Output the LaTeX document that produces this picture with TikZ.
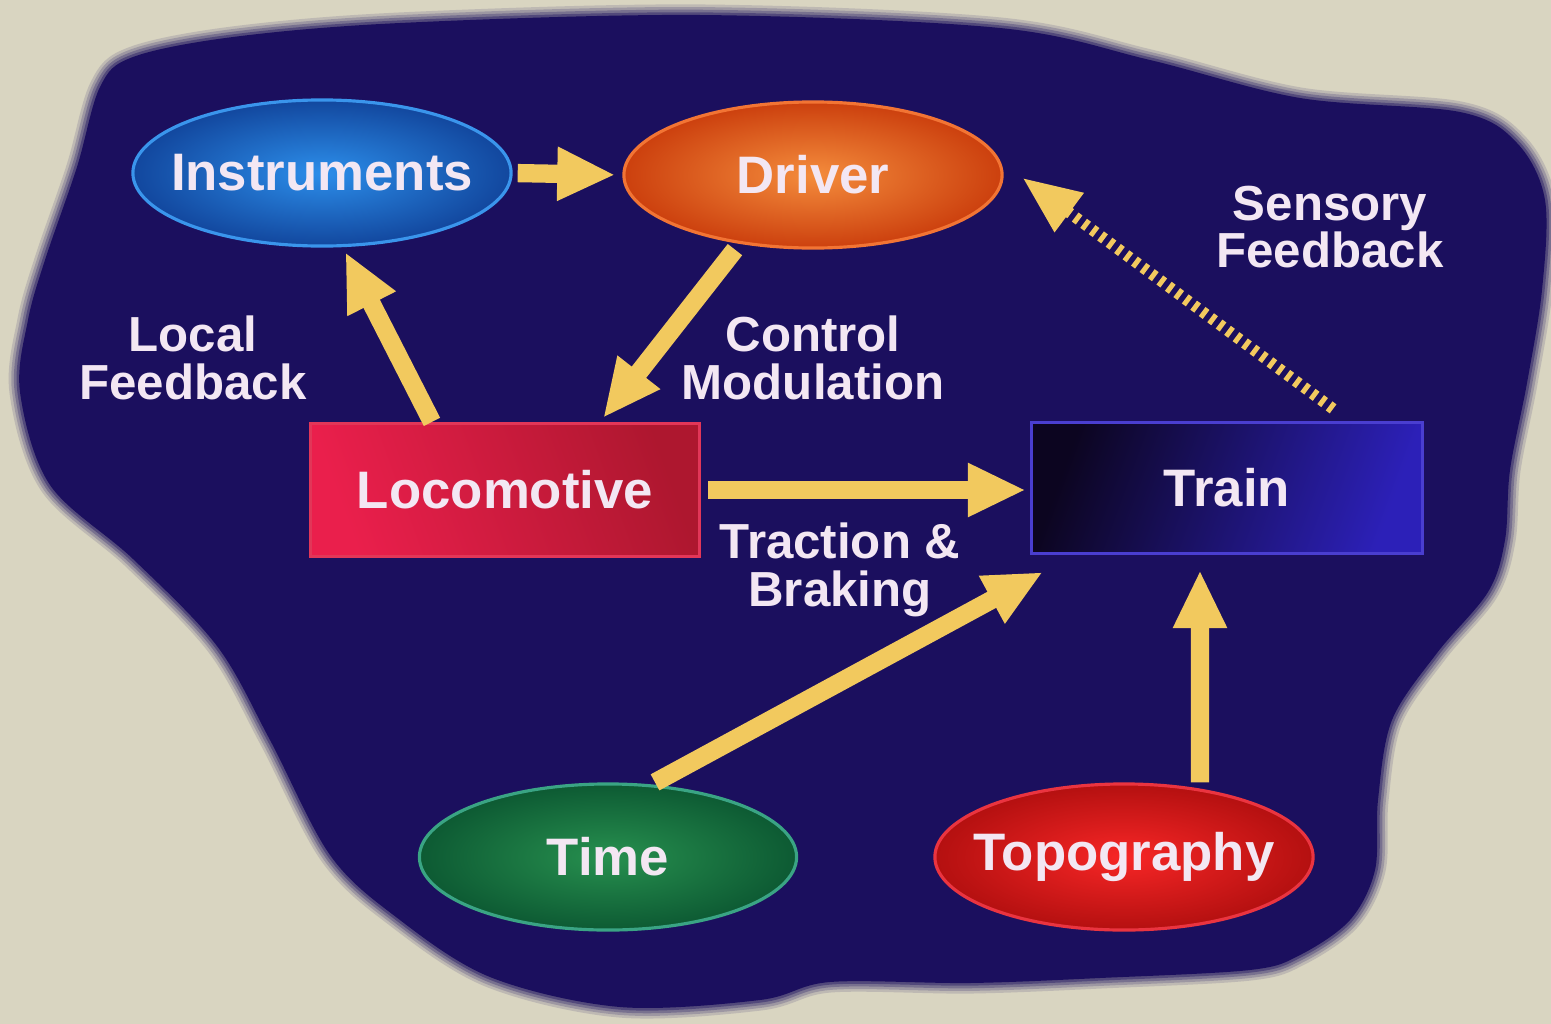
\documentclass[tikz,border=0pt]{standalone}
\usepackage{fontspec}
\setmainfont{Liberation Sans}
\usetikzlibrary{arrows.meta,shapes.geometric}
\definecolor{paper}{HTML}{D9D5C1}
\definecolor{night}{HTML}{1B0F5E}
\definecolor{ochre}{HTML}{F2C95E}
\definecolor{chalk}{HTML}{F3E7F3}
\definecolor{skyin}{HTML}{2C8EEA}
\definecolor{skyout}{HTML}{12479E}
\definecolor{skyrim}{HTML}{3A95EC}
\definecolor{amberin}{HTML}{F48C3C}
\definecolor{amberout}{HTML}{CC400E}
\definecolor{amberrim}{HTML}{F27434}
\definecolor{leafin}{HTML}{27904F}
\definecolor{leafout}{HTML}{0D5A33}
\definecolor{leafrim}{HTML}{3AA484}
\definecolor{firein}{HTML}{F72626}
\definecolor{fireout}{HTML}{B41010}
\definecolor{firerim}{HTML}{EA3440}
\definecolor{locoa}{HTML}{EA1F4C}
\definecolor{locob}{HTML}{AE172F}
\definecolor{locorim}{HTML}{E23658}
\definecolor{traina}{HTML}{0C0520}
\definecolor{trainb}{HTML}{2C20B8}
\definecolor{trainrim}{HTML}{4A3ED0}
\tikzset{
  oval/.style={ellipse, minimum width=3.78cm, minimum height=1.46cm, inner sep=0pt,
    line width=0.9pt, font=\bfseries\fontsize{15}{18}\selectfont, text=chalk},
  block/.style={rectangle, minimum width=3.9cm, minimum height=1.32cm, inner sep=0pt,
    line width=0.9pt, font=\bfseries\fontsize{15}{18}\selectfont, text=chalk},
  flow/.style={-{Triangle[length=5.8mm,width=5mm]}, draw=ochre, line width=5.2pt},
  sense/.style={-{Triangle[length=5.8mm,width=4.6mm]}, draw=ochre, line width=3.2pt,
    dash pattern=on 1.4pt off 1.6pt},
  note/.style={font=\bfseries\fontsize{14}{13.6}\selectfont, text=chalk, align=center},
}
% text sits centred without widening the ellipse
\newcommand{\ovaltext}[1]{\makebox[0pt]{#1}}
% outline of the dark backdrop
\newcommand{\backdrop}{plot[smooth cycle, tension=0.55] coordinates {
  (400,23) (700,15) (1000,28) (1150,60) (1300,98) (1460,112) (1517,143)
  (1545,200) (1542,290) (1527,383) (1510,470) (1505,540) (1488,592)
  (1437,653) (1392,720) (1378,800) (1375,870) (1350,920) (1300,955)
  (1250,970) (1100,978) (970,983) (830,982) (760,1000) (620,1007)
  (490,977) (396,917) (330,855) (270,740) (217,646) (133,559) (50,485)
  (20,392) (28,320) (45,260) (77,167) (100,87) (133,57) (233,37)}}

\begin{document}
\begin{tikzpicture}[x=0.01cm, y=-0.01cm]

\useasboundingbox (0,0) rectangle (1551,1024);
\fill[paper] (0,0) rectangle (1551,1024);

% soft-edged backdrop
\foreach \w/\o in {6/0.14, 4.5/0.2, 3/0.28, 1.5/0.4}
  \draw[night, line width=\w pt, opacity=\o] \backdrop;
\fill[night] \backdrop;

% nodes
\node[oval, draw=skyrim, inner color=skyin, outer color=skyout] (instr) at (322,173) {\ovaltext{Instruments}};
\node[oval, draw=amberrim, inner color=amberin, outer color=amberout] (driver) at (813,175) {\ovaltext{Driver}};
\node[block, minimum width=3.89cm, minimum height=1.33cm, draw=locorim,
  left color=locoa, right color=locob, shading angle=110] (loco) at (505,490) {Locomotive};
\node[block, minimum width=3.91cm, minimum height=1.31cm, draw=trainrim,
  left color=traina, right color=trainb, shading angle=70] (train) at (1227,488) {Train};
\node[oval, minimum width=3.77cm, draw=leafrim, inner color=leafin, outer color=leafout] (time) at (608,857) {\ovaltext{Time}};
\node[oval, draw=firerim, inner color=firein, outer color=fireout] (topo) at (1124,857) {\ovaltext{Topography}};

% labels
\node[note] (localfb) at (193,358) {Local\\Feedback};
\node[note] (ctrlmod) at (813,358) {Control\\Modulation};
\node[note] (traction) at (840,570) {Traction \&\\Braking};
\node[note] (sensefb) at (1330,227) {Sensory\\Feedback};

% connectors
\draw[flow, shorten <=0.05cm, shorten >=0.07cm] (instr.east) -- (driver.west);
\draw[flow, shorten >=0.05cm] ([xshift=-0.78cm]driver.south) -- ([xshift=0.95cm]loco.north);
\draw[flow, shorten >=0.05cm] ([xshift=-0.73cm]loco.north) -- ([xshift=0.21cm]instr.south);
\draw[flow, shorten <=0.07cm, shorten >=0.04cm] (loco.east) -- (loco.east -| train.west);
\draw[flow] ([xshift=0.47cm]time.north) -- ([xshift=0.13cm,yshift=-0.17cm]train.south west);
\draw[flow, shorten >=0.15cm] ([xshift=0.76cm]topo.north) -- ([xshift=-0.27cm]train.south);
\draw[sense] ([xshift=1.06cm,yshift=0.12cm]train.north) -- ([xshift=0.19cm,yshift=-0.03cm]driver.east);

\end{tikzpicture}
\end{document}
